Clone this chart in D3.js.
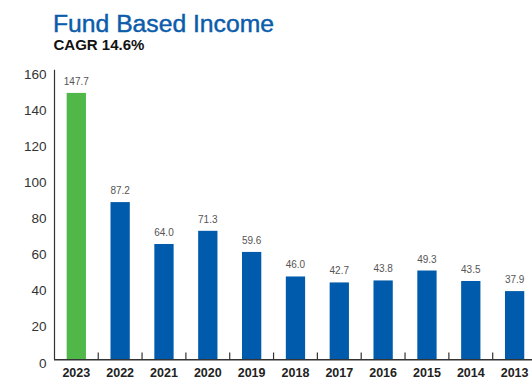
<!DOCTYPE html>
<html>
<head>
<meta charset="utf-8">
<script src="https://cdn.jsdelivr.net/npm/d3@7"></script>
<style>
  html, body { margin: 0; padding: 0; background: #fff; }
  svg { display: block; font-family: "Liberation Sans", Arial, Helvetica, sans-serif; }
</style>
</head>
<body>
<svg id="chart" width="532" height="379"></svg>
<script>
// Fund based income by year (most recent first)
const years = ["2023", "2022", "2021", "2020", "2019", "2018", "2017", "2016", "2015", "2014", "2013"];
const income = [147.7, 87.2, 64.0, 71.3, 59.6, 46.0, 42.7, 43.8, 49.3, 43.5, 37.9];
const yTicks = [0, 20, 40, 60, 80, 100, 120, 140, 160];
const titleText = "Fund Based Income";
const subtitleText = "CAGR 14.6%";

const svg = d3.select("#chart");
const W = 532;

const x = d3.scaleBand()
  .domain(years)
  .range([54.4, 54.4 + 11 * 43.83])
  .paddingInner(0.56)
  .paddingOuter(0.28);

const y = d3.scaleLinear()
  .domain([0, 160])
  .range([359.5, 70.7]);

// Title block
svg.append("text")
  .attr("x", 53).attr("y", 32)
  .attr("fill", "#0b5cab")
  .attr("stroke", "#0b5cab")
  .attr("stroke-width", 0.45)
  .attr("font-size", 24.7)
  .text(titleText);

svg.append("text")
  .attr("x", 53.5).attr("y", 50)
  .attr("fill", "#111")
  .attr("font-size", 15)
  .attr("font-weight", "bold")
  .text(subtitleText);

// Bars: latest year highlighted in green
svg.append("g").selectAll("rect")
  .data(years)
  .join("rect")
  .attr("x", d => x(d))
  .attr("width", x.bandwidth())
  .attr("y", (d, i) => y(income[i]))
  .attr("height", (d, i) => y(0) - y(income[i]))
  .attr("fill", (d, i) => i === 0 ? "#50b848" : "#005bac");

// Value labels above bars
svg.append("g").selectAll("text")
  .data(years)
  .join("text")
  .attr("x", d => x(d) + x.bandwidth() / 2)
  .attr("y", (d, i) => y(income[i]) - 8)
  .attr("text-anchor", "middle")
  .attr("font-size", 10)
  .attr("fill", "#555")
  .text((d, i) => income[i].toFixed(1));

// Y axis
const yAxis = svg.append("g");
yAxis.append("line")
  .attr("x1", 54.5).attr("x2", 54.5)
  .attr("y1", y(160) - 1).attr("y2", y(0))
  .attr("stroke", "#333").attr("stroke-width", 1.2);
yAxis.selectAll("text")
  .data(yTicks)
  .join("text")
  .attr("x", 46.5)
  .attr("y", d => y(d) + 8)
  .attr("text-anchor", "end")
  .attr("font-size", 13.5)
  .attr("fill", "#333")
  .text(d => d);

// X axis baseline with separator ticks between bands
const xAxis = svg.append("g");
xAxis.append("line")
  .attr("x1", 54).attr("x2", W)
  .attr("y1", y(0) + 0.3).attr("y2", y(0) + 0.3)
  .attr("stroke", "#333").attr("stroke-width", 1.6);
xAxis.selectAll("line.sep")
  .data(years.slice(1))
  .join("line")
  .attr("class", "sep")
  .attr("x1", d => x(d) - x.step() * x.paddingInner() / 2)
  .attr("x2", d => x(d) - x.step() * x.paddingInner() / 2)
  .attr("y1", y(0) - 7).attr("y2", y(0))
  .attr("stroke", "#333").attr("stroke-width", 1.2);
xAxis.selectAll("text")
  .data(years)
  .join("text")
  .attr("x", d => x(d) + x.bandwidth() / 2)
  .attr("y", 376.5)
  .attr("text-anchor", "middle")
  .attr("font-size", 12.5)
  .attr("font-weight", "bold")
  .attr("fill", "#222")
  .text(d => d);
</script>
</body>
</html>
